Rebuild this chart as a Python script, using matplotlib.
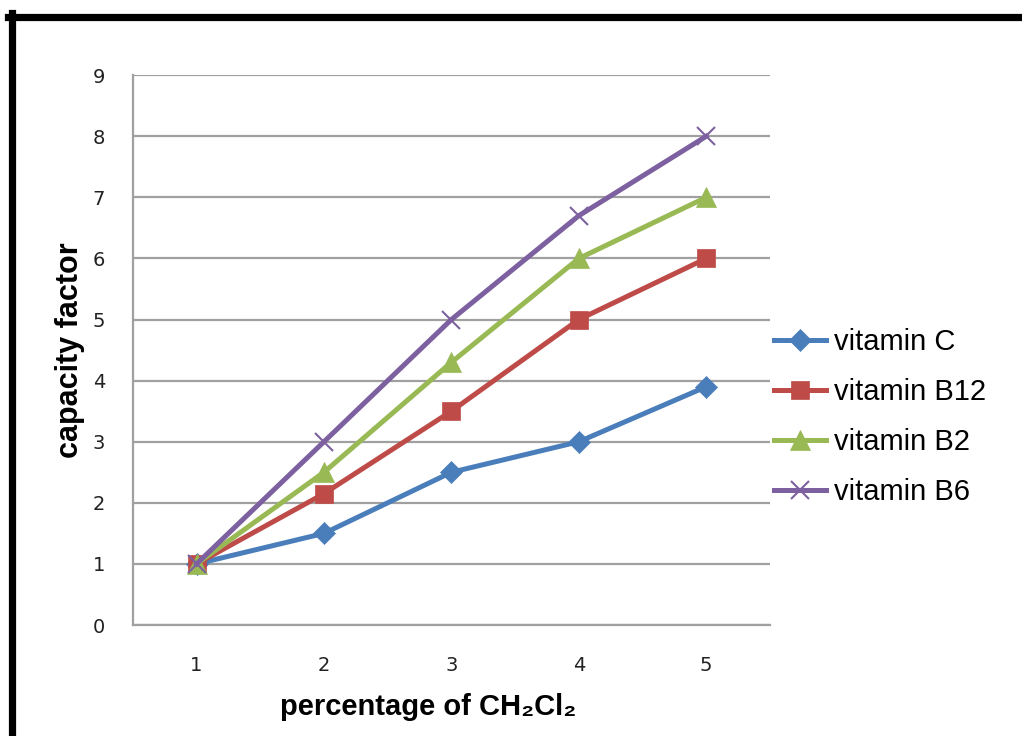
import matplotlib.pyplot as plt
from matplotlib.lines import Line2D

# capacity factor vs. percentage of CH2Cl2 in the mobile phase
percent = [1, 2, 3, 4, 5]
vit_c = [1, 1.5, 2.5, 3, 3.9]
vit_b12 = [1, 2.15, 3.5, 5, 6]
vit_b2 = [1, 2.5, 4.3, 6, 7]
vit_b6 = [1, 3, 5, 6.7, 8]

series = [
    ('vitamin C', vit_c, '#4A7EBB', 'D', 11),
    ('vitamin B12', vit_b12, '#BE4B48', 's', 13),
    ('vitamin B2', vit_b2, '#98B954', '^', 14),
    ('vitamin B6', vit_b6, '#7D60A0', 'x', 13),
]

fig = plt.figure(figsize=(10.22, 7.36), dpi=100)
ax = fig.add_axes([0.130, 0.1508, 0.6233, 0.747])

for name, vals, col, mk, ms in series:
    ax.plot(percent, vals, color=col, lw=3.6, marker=mk, markersize=ms,
            markeredgewidth=1.5 if mk == 'x' else 0.5, markeredgecolor=col,
            label=name, zorder=3)

ax.set_xlim(0.5, 5.5)
ax.set_ylim(0, 9)
ax.set_yticks(range(0, 10))
ax.set_xticks(percent)
ax.yaxis.grid(True, color='#a0a0a0', lw=1.6)
ax.set_axisbelow(True)
for s in ['top', 'right']:
    ax.spines[s].set_visible(False)
for s in ['left', 'bottom']:
    ax.spines[s].set_color('#a0a0a0')
    ax.spines[s].set_linewidth(1.6)
ax.tick_params(length=0, labelsize=14, labelcolor='#222222')
ax.tick_params(axis='y', pad=20)
ax.tick_params(axis='x', pad=22)

ax.set_xlabel('percentage of CH₂Cl₂', fontsize=21, fontweight='bold',
              family=['Liberation Sans', 'DejaVu Sans'])
ax.set_ylabel('capacity factor', fontsize=22, fontweight='bold',
              family=['Liberation Sans', 'DejaVu Sans'])
ax.xaxis.set_label_coords(0.464, -0.123)
ax.yaxis.set_label_coords(-0.075, 0.5)

leg = ax.legend(loc='center left', bbox_to_anchor=(0.965, 0.378), frameon=False,
                prop={'family': 'Liberation Sans', 'size': 21},
                handlelength=1.8, handletextpad=0.25, labelspacing=0.75)

# heavy black frame on the top and left edges
fig.add_artist(Line2D([8 / 1022, 1], [1 - 16.5 / 736] * 2, color='black', lw=5.2))
fig.add_artist(Line2D([11.5 / 1022] * 2, [0, 1 - 13 / 736], color='black', lw=5.2))

fig.savefig('out.png', dpi=100)
